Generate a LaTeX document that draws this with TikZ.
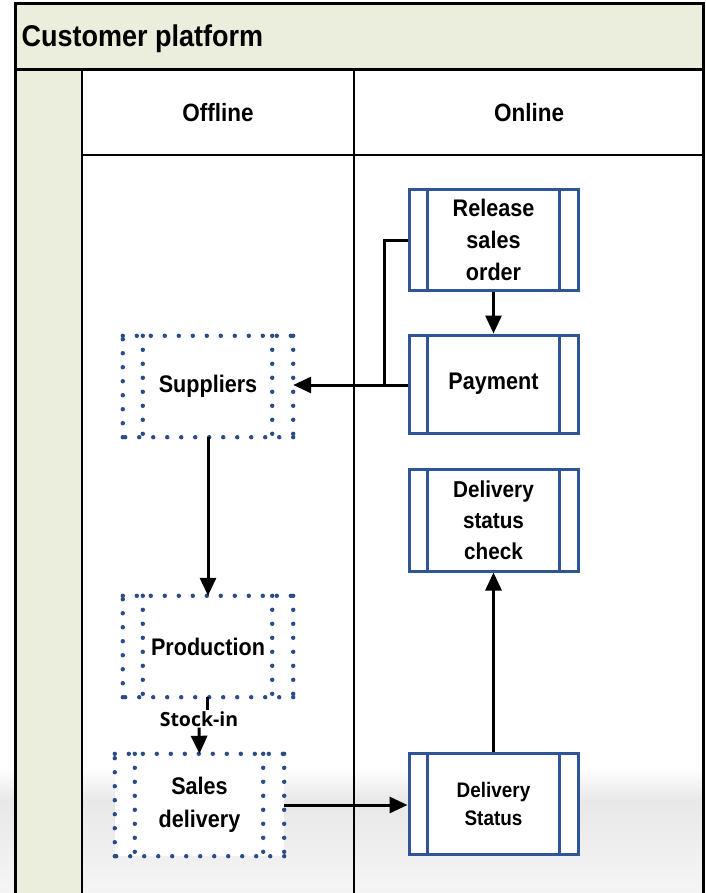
\documentclass[tikz,border=0pt]{standalone}
\usepackage{fontspec}
\setmainfont[FakeStretch=0.9]{Liberation Sans}
\newfontfamily\stockfont{Open Sans}
\usetikzlibrary{arrows.meta,decorations.markings}
\definecolor{lanegreen}{HTML}{EBEEDD}
\definecolor{boxblue}{HTML}{2F5597}
\begin{document}
\begin{tikzpicture}[x=1pt,y=-1pt,
  procbox/.style={draw=boxblue, line width=3pt, fill=white, minimum width=169pt,
    align=center, inner sep=0pt, font=\bfseries\fontsize{24}{32}\selectfont},
  dotbox/.style={fill=white, minimum width=170pt, minimum height=101pt, align=center, inner sep=0pt,
    font=\bfseries\fontsize{24}{33}\selectfont},
  innerline/.style={draw=boxblue, line width=3pt},
  dotpath/.style={decoration={markings, mark=between positions 0 and 1 step 14pt with {\fill[boxblue!90!black] (0,0) circle (2.2pt);}}, decorate},
  conn/.style={line width=3pt, black},
  arr/.style={conn, -{Triangle[length=18pt,width=16pt]}},
  headtxt/.style={font=\bfseries\fontsize{25}{30}\selectfont},
  frame/.style={line width=3pt, black}
]
\useasboundingbox (0,0) rectangle (705,893);
\clip (0,0) rectangle (705,893);
% background grey band
\shade[top color=white, bottom color=black!9] (0,768) rectangle (705,800);
\shade[top color=black!9, bottom color=black!4] (0,800) rectangle (705,893);
% frame
\fill[lanegreen] (15,4) rectangle (703,70);
\fill[lanegreen] (15,70) rectangle (82,895);
\fill[white] (82,70) rectangle (703,155);
\draw[line width=1.2pt] (82,155) -- (703,155);
\draw[line width=1.2pt] (354,70) -- (354,895);
\draw[line width=2.2pt] (82,70) -- (82,895);
\draw[frame] (15,895) -- (15,4) -- (703,4) -- (703,895);
\draw[frame] (15,70) -- (703,70);
% texts
\node[anchor=west, font=\bfseries\fontsize{30}{36}\selectfont] (title) at (18,39) {Customer platform};
\node[headtxt] (offline) at (218,113) {Offline};
\node[headtxt] (online) at (529,113) {Online};
% online boxes
\node[procbox, minimum height=100pt] (rel) at (493.5,240) {Release\\sales\\order};
\node[procbox, minimum height=98pt] (pay) at (493.5,384) {Payment};
\node[procbox, minimum height=102pt, font=\bfseries\fontsize{23}{31}\selectfont] (dsc) at (493.5,520) {Delivery\\status\\check};
\node[procbox, minimum height=101pt, font=\bfseries\fontsize{21}{28}\selectfont] (ds) at (493.5,803.5) {Delivery\\Status};
\foreach \n in {rel,pay,dsc,ds}{
  \draw[innerline] ([xshift=20pt]\n.north west) -- ([xshift=20pt]\n.south west);
  \draw[innerline] ([xshift=-20pt]\n.north east) -- ([xshift=-20pt]\n.south east);
}
% offline boxes
\node[dotbox] (sup) at (208,386.5) {Suppliers};
\node[dotbox] (prod) at (208,646.5) {Production};
\node[dotbox, minimum width=169pt, minimum height=102pt] (sales) at (199.5,805) {Sales\\delivery};
\foreach \n in {sup,prod,sales}{
  \path[dotpath] (\n.north west) -- (\n.north east);
  \path[dotpath] (\n.north east) -- (\n.south east);
  \path[dotpath] (\n.south east) -- (\n.south west);
  \path[dotpath] (\n.south west) -- (\n.north west);
  \path[dotpath] ([xshift=20pt]\n.north west) -- ([xshift=20pt]\n.south west);
  \path[dotpath] ([xshift=-21pt]\n.north east) -- ([xshift=-21pt]\n.south east);
}
% connectors
\coordinate (j) at (384,385);
\draw[arr] (rel.south) -- (pay.north);
\draw[arr] (pay.west |- j) -- (sup.east |- j);
\draw[conn] (rel.west) -| (j);
\draw[arr] (sup.south) -- (prod.north);
\node[font=\stockfont\bfseries\fontsize{19.5}{22}\selectfont, inner sep=1pt] (stock) at (199,719) {Stock-in};
\draw[conn] ([xshift=-1pt]prod.south) -- ([xshift=-1pt]prod.south |- stock.north);
\draw[arr] (stock.south) -- (sales.north);
\draw[arr] (sales.east) -- (sales.east -| ds.west);
\draw[arr] (ds.north) -- (dsc.south);
\end{tikzpicture}
\end{document}
